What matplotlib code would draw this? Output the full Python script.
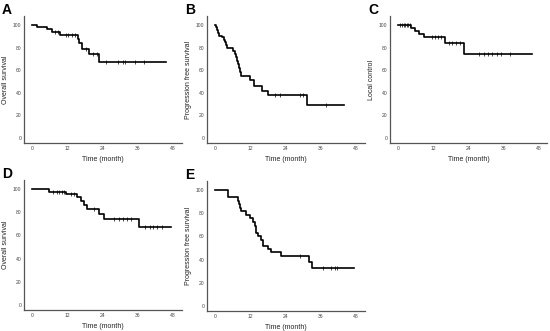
import numpy as np
import matplotlib
matplotlib.use('Agg')
import matplotlib.pyplot as plt

plt.rcParams['font.family'] = ['Liberation Sans', 'DejaVu Sans']

# Kaplan-Meier step data: times (months) and survival (%) after each step
a_t = [0, 1.6, 5.2, 6.7, 9.5, 15.5, 16.1, 17.0, 19.5, 22.8, 45.5]
a_s = [100, 98.5, 96.2, 93.8, 91.4, 87.3, 83.8, 79.0, 74.3, 67.6, 67.6]
a_cens = [7.8, 9.0, 11.5, 12.4, 13.5, 14.6, 18.3, 20.9, 22.0, 25.2, 29.4,
          31.1, 31.6, 35.0, 38.1]

b_t = [0, 0.4, 0.8, 1.1, 1.5, 2.3, 3.1, 3.4, 3.8, 4.2, 6.2, 6.8, 7.1, 7.6,
       7.9, 8.2, 8.5, 8.8, 11.9, 13.3, 16.0, 17.9, 31.3, 43.8]
b_s = [100, 97.9, 95.6, 93.2, 90.6, 89.1, 86.7, 84.7, 82.0, 79.4, 77.0, 74.3,
       71.4, 68.1, 65.2, 61.7, 58.7, 55.2, 51.3, 46.0, 41.9, 38.0, 28.9, 28.9]
b_cens = [20.3, 22.0, 28.8, 29.9, 37.9]

c_t = [0, 4.5, 5.8, 7.2, 8.8, 16.0, 22.5, 45.7]
c_s = [100, 97.3, 94.6, 91.9, 89.2, 84.3, 73.9, 73.9]
c_cens = [0.8, 1.4, 2.0, 2.5, 3.1, 3.6, 4.1, 11.5, 12.7, 13.8, 14.9, 17.5,
          18.6, 20.0, 21.1, 27.9, 29.3, 30.7, 32.2, 33.8, 35.3, 38.3]

d_t = [0, 5.8, 11.7, 15.4, 16.6, 17.6, 18.6, 22.7, 24.6, 36.3, 47.1]
d_s = [100, 97.9, 95.6, 93.2, 90.2, 86.7, 82.8, 78.7, 74.0, 67.5, 67.5]
d_cens = [7.3, 8.4, 9.3, 10.2, 10.9, 13.4, 14.2, 21.2, 27.9, 29.6, 30.9,
          32.4, 33.5, 38.5, 40.2, 41.3, 42.4, 44.1]

e_t = [0, 4.3, 7.9, 8.2, 8.5, 9.0, 10.7, 11.9, 13.0, 13.6, 14.1, 14.7, 15.6,
       16.4, 17.9, 19.2, 22.3, 31.9, 33.0, 47.2]
e_s = [100, 94, 91, 88, 85, 81.7, 78.7, 75.7, 72.8, 69, 63, 60, 57.1, 52,
       49.1, 46.2, 43.2, 37.9, 32.8, 32.8]
e_cens = [28.8, 36.7, 39.5, 40.7, 41.6]

xticks = [0, 12, 24, 36, 48]
yticks = [0, 20, 40, 60, 80, 100]

panels = [
    ('A', 'Overall survival', a_t, a_s, a_cens, [24, 16, 158, 127]),
    ('B', 'Progression free survival', b_t, b_s, b_cens, [207, 16, 158, 127]),
    ('C', 'Local control', c_t, c_s, c_cens, [390, 16, 157, 127]),
    ('D', 'Overall survival', d_t, d_s, d_cens, [24, 180, 158, 130]),
    ('E', 'Progression free survival', e_t, e_s, e_cens, [207, 181, 158, 130]),
]

W, H = 550, 331
fig = plt.figure(figsize=(W / 100, H / 100), dpi=100)


def km(ax, t, s, cens):
    t = np.asarray(t)
    s = np.asarray(s)
    ax.step(t, s, where='post', color='black', lw=1.2)
    idx = np.searchsorted(t, cens, side='right') - 1
    ax.plot(cens, s[idx], ls='none', marker='|', color='black', ms=2.2,
            mew=0.5)


for letter, ylab, t, s, cens, (px, py, pw, ph) in panels:
    ax = fig.add_axes([px / W, 1 - (py + ph) / H, pw / W, ph / H])
    km(ax, t, s, cens)
    ax.set_xlim(-2.7, 51)
    ax.set_ylim(-4.5, 108)
    ax.set_xticks(xticks)
    ax.set_yticks(yticks)
    ax.tick_params(length=0, pad=2, labelsize=3.6, colors='#444444')
    for side in ['top', 'right']:
        ax.spines[side].set_visible(False)
    for side in ['left', 'bottom']:
        ax.spines[side].set_color('#555555')
        ax.spines[side].set_linewidth(0.9)
    ax.set_xlabel('Time (month)', fontsize=5, labelpad=4, color='#222222')
    ax.set_ylabel(ylab, fontsize=5, color='#222222')
    ax.yaxis.set_label_coords(-15 / pw, 0.5)
    fig.text((px - 22) / W, 1 - (py - 6) / H, letter, fontsize=10,
             fontweight='bold', va='center', ha='left')

fig.savefig('out.png', dpi=100)
